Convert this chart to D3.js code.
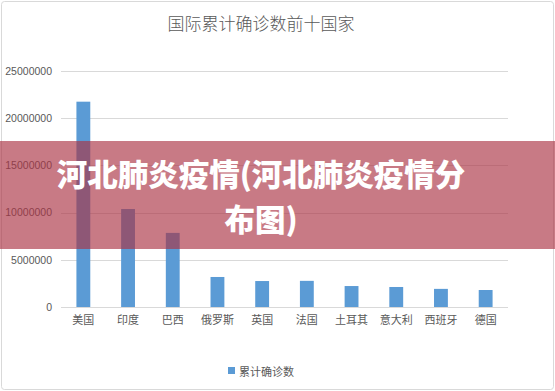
<!DOCTYPE html>
<html>
<head>
<meta charset="utf-8">
<script src="https://cdn.jsdelivr.net/npm/d3@7.9.0/dist/d3.min.js"></script>
<style>
  html, body { margin: 0; padding: 0; background: #fff; }
  svg { display: block; }
</style>
</head>
<body>
<svg id="chart" width="555" height="391"></svg>
<script>
// Chart data
const countries = ["美国", "印度", "巴西", "俄罗斯", "英国", "法国", "土耳其", "意大利", "西班牙", "德国"];
const confirmed = [21750000, 10380000, 7850000, 3180000, 2750000, 2770000, 2220000, 2120000, 1920000, 1800000];
const yTicks = [0, 5000000, 10000000, 15000000, 20000000, 25000000];
const chartTitle = "国际累计确诊数前十国家";
const seriesName = "累计确诊数";
const bannerLines = ["河北肺炎疫情(河北肺炎疫情分", "布图)"];

const W = 555, H = 391;
const margin = { top: 71, right: 47, bottom: 84, left: 61 };
const font = "'Noto Sans CJK SC', 'Noto Sans', sans-serif";

const svg = d3.select("#chart");

// outer chart border
svg.append("rect")
  .attr("x", 1.5).attr("y", 1.5)
  .attr("width", W - 3).attr("height", H - 3)
  .attr("rx", 3)
  .attr("fill", "#fff")
  .attr("stroke", "#d9d9d9");

// title
svg.append("text")
  .attr("x", 261).attr("y", 22)
  .attr("text-anchor", "middle")
  .attr("dominant-baseline", "central")
  .attr("font-family", font)
  .attr("font-size", 17)
  .attr("font-weight", 300)
  .attr("fill", "#595959")
  .text(chartTitle);

// scales
let x = d3.scaleBand()
  .domain(countries)
  .range([margin.left, W - margin.right])
  .paddingInner(0.69)
  .paddingOuter(0.345);

let y = d3.scaleLinear()
  .domain([0, 25000000])
  .range([H - margin.bottom, margin.top]);

// gridlines
svg.append("g")
  .selectAll("line")
  .data(yTicks)
  .join("line")
  .attr("x1", margin.left).attr("x2", W - margin.right)
  .attr("y1", d => Math.round(y(d)) + 0.5)
  .attr("y2", d => Math.round(y(d)) + 0.5)
  .attr("stroke", "#d9d9d9");

// y axis labels
const yAxis = svg.append("g")
  .attr("transform", `translate(${margin.left - 9},0)`)
  .call(d3.axisLeft(y).tickValues(yTicks).tickFormat(d3.format("d")).tickSize(0).tickPadding(0));
yAxis.select(".domain").remove();
yAxis.selectAll("text")
  .attr("font-family", "'Liberation Sans', Arial, sans-serif")
  .attr("font-size", 10.5)
  .attr("fill", "#595959");

// bars
svg.append("g")
  .selectAll("rect")
  .data(countries)
  .join("rect")
  .attr("x", d => x(d))
  .attr("width", x.bandwidth())
  .attr("y", (d, i) => y(confirmed[i]))
  .attr("height", (d, i) => y(0) - y(confirmed[i]))
  .attr("fill", "#5b9bd5");

// x axis labels
const xAxis = svg.append("g")
  .attr("transform", `translate(0,${y(0) + 9})`)
  .call(d3.axisBottom(x).tickSize(0).tickPadding(0));
xAxis.select(".domain").remove();
xAxis.selectAll("text")
  .attr("font-family", font)
  .attr("font-size", 11)
  .attr("fill", "#595959");

// legend
const legend = svg.append("g").attr("transform", "translate(228,367)");
legend.append("rect")
  .attr("width", 7).attr("height", 7)
  .attr("fill", "#5b9bd5");
legend.append("text")
  .attr("x", 11).attr("y", 4)
  .attr("dominant-baseline", "central")
  .attr("font-family", font)
  .attr("font-size", 11)
  .attr("fill", "#595959")
  .text(seriesName);

// red banner overlay
svg.append("rect")
  .attr("x", 0).attr("y", 141)
  .attr("width", W).attr("height", 108)
  .attr("fill", "rgba(170,51,68,0.65)");

svg.append("g")
  .selectAll("text")
  .data(bannerLines)
  .join("text")
  .attr("x", 261)
  .attr("y", (d, i) => 173 + i * 45)
  .attr("text-anchor", "middle")
  .attr("dominant-baseline", "central")
  .attr("font-family", font)
  .attr("font-size", 30.5)
  .attr("font-weight", 900)
  .attr("fill", "#fff")
  .text(d => d);
</script>
</body>
</html>
